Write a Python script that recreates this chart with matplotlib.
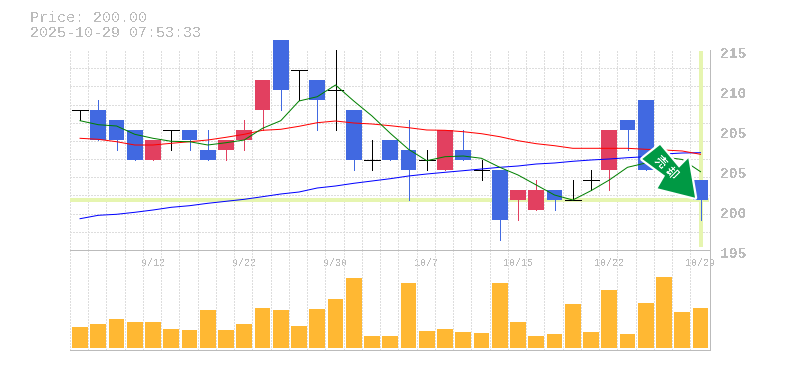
import numpy as np
import matplotlib
matplotlib.use("Agg")
import matplotlib.pyplot as plt
from matplotlib.patches import Polygon
from matplotlib.transforms import ScaledTranslation

dates = ["9/12", "9/22", "9/30", "10/7", "10/15", "10/22", "10/29"]
date_idx = [4, 9, 14, 19, 24, 29, 34]

opens = [209, 209, 208, 207, 204, 207, 207, 205, 205, 206, 209, 216, 213, 212, 211, 209, 204, 206,
         205, 204, 203, 205, 203, 203, 200, 199, 201, 200, 202, 203, 208, 210, 204, 202, 202]
highs = [209, 210, 208, 207, 206, 207, 207, 207, 206, 208, 212, 216, 213, 212, 215, 209, 206, 206,
         208, 205, 207, 207, 204, 203, 201, 202, 201, 202, 203, 207, 208, 210, 204, 203, 202]
lows = [208, 206, 205, 204, 204, 205, 205, 204, 204, 205, 207, 209, 210, 207, 207, 203, 203, 204,
        200, 203, 203, 204, 202, 196, 198, 199, 199, 200, 201, 201, 205, 203, 203, 202, 198]
closes = [209, 206, 206, 204, 206, 207, 206, 204, 206, 207, 212, 211, 213, 210, 211, 204, 204, 204,
          203, 204, 207, 204, 203, 198, 201, 201, 200, 200, 202, 207, 207, 203, 203, 202, 200]

ma_short = [207.93, 207.53, 207.4, 206.57, 206.17, 205.87, 205.83, 205.5, 205.73, 206.0,
            207.17, 207.93, 209.9, 210.33, 211.5, 209.9, 208.4, 206.67, 205.07, 203.93,
            204.33, 204.4, 204.17, 203.27, 202.5, 201.5, 200.5, 200.0, 200.93, 202.0,
            203.27, 203.7, 204.3, 204.05, 202.83]
ma_mid = [206.17, 206.07, 205.83, 205.5, 205.5, 205.67, 205.83, 206.0, 206.27, 206.57,
          206.97, 207.07, 207.37, 207.73, 207.9, 207.7, 207.6, 207.43, 207.23, 207.0,
          206.97, 206.83, 206.63, 206.33, 205.93, 205.63, 205.43, 205.17, 205.17, 205.17,
          205.17, 205.07, 205.0, 204.9, 204.57]
ma_long = [198.13, 198.47, 198.57, 198.77, 199.0, 199.27, 199.43, 199.67, 199.87, 200.07,
           200.33, 200.6, 200.8, 201.2, 201.4, 201.67, 201.9, 202.13, 202.4, 202.6,
           202.77, 202.93, 203.1, 203.27, 203.4, 203.6, 203.7, 203.87, 204.0, 204.1,
           204.23, 204.33, 204.6, 204.7, 204.73]

volumes = [21, 24, 29, 26, 26, 19, 18, 38, 18, 24, 40, 38, 22, 39, 49, 70, 12, 12,
           65, 17, 19, 16, 15, 65, 26, 12, 14, 44, 16, 58, 14, 45, 71, 36, 40]

price_ticks = [215, 211, 207, 203, 199, 195]
price_labels = ["215", "210", "205", "205", "200", "195"]

W, H = 785, 370
PX = 0.72
GRAY = "#bbbbbb"
GRID = "#dddddd"
HILITE = "#e6f5b0"
BLUE = "#4169e1"
RED = "#e24060"
ORANGE = "#ffb833"

plt.rcParams["font.family"] = ["Liberation Mono", "DejaVu Sans Mono"]
plt.rcParams["text.antialiased"] = False
plt.rcParams["lines.antialiased"] = False
plt.rcParams["patch.antialiased"] = False

fig = plt.figure(figsize=(W / 100, H / 100), dpi=100)
ax = fig.add_axes([70 / W, 1 - 250 / H, 640 / W, 200 / H])
vol = fig.add_axes([70 / W, 1 - 350 / H, 640 / W, 100 / H], sharex=ax)

x = np.arange(len(closes))
opens = np.array(opens)
closes = np.array(closes)
highs = np.array(highs)
lows = np.array(lows)
colors = np.where(closes > opens, RED, np.where(closes < opens, BLUE, "black"))

grid_x = np.arange(35) - 0.55
for a in (ax, vol):
    a.set_xlim(-0.55, 34.52)
    a.set_xticks(grid_x, minor=True)
    a.grid(which="minor", axis="x", color=GRID, linewidth=PX, linestyle=(0, (2, 2)))
    a.tick_params(which="both", length=0)
    a.set_axisbelow(True)
    for s in a.spines.values():
        s.set_color(GRAY)
        s.set_linewidth(PX)
    a.spines["top"].set_visible(False)
    a.spines["left"].set_visible(False)

# price panel
ax.set_ylim(195, 215)
ax.set_yticks(np.linspace(195, 215, 12), minor=True)
ax.grid(which="minor", axis="y", color=GRID, linewidth=PX, linestyle=(0, (2, 2)))
ax.plot([-0.55, 34.45], [closes[-1], closes[-1]], color=HILITE, linewidth=4 * PX,
        zorder=1, solid_capstyle="butt")
ax.plot([x[-1], x[-1]], [195.3, 214.9], color=HILITE, linewidth=4 * PX, zorder=1, solid_capstyle="butt")

ax.vlines(x, lows, highs, colors=colors, linewidth=PX, zorder=2, clip_on=False)
solid = closes != opens
ax.bar(x[solid], np.abs(closes - opens)[solid], bottom=np.minimum(opens, closes)[solid], width=0.86,
       color=colors[solid], linewidth=0, zorder=3, clip_on=False)
ax.hlines(closes[~solid], x[~solid] - 0.43, x[~solid] + 0.43, colors="black", linewidth=PX, zorder=3)

ax.plot(x, ma_long, color="#0000ff", linewidth=PX, antialiased=True, zorder=4)
ax.plot(x, ma_mid, color="#ff0000", linewidth=PX, antialiased=True, zorder=4)
ax.plot(x, ma_short, color="#008000", linewidth=PX, antialiased=True, zorder=4)

ax.yaxis.tick_right()
ax.set_yticks(price_ticks)
ax.set_yticklabels(price_labels, fontsize=10.5, color=GRAY, fontweight="bold")
ax.tick_params(axis="y", which="major", pad=7)
for label in ax.get_yticklabels():
    label.set_transform(label.get_transform() + ScaledTranslation(0, -3 / 100, fig.dpi_scale_trans))
ax.tick_params(axis="x", which="both", labelbottom=False, labeltop=False)

# volume panel
vol.bar(x, volumes, width=0.86, color=ORANGE, linewidth=0, zorder=3)
vol.set_ylim(-2, 98)
vol.set_yticks([])
vol.spines["top"].set_visible(True)
vol.xaxis.tick_top()
vol.set_xticks(date_idx)
vol.set_xticklabels(dates, fontsize=7.2, color=GRAY)
vol.tick_params(axis="x", which="major", pad=-13, labeltop=True, labelbottom=False)

fig.text(30 / W, 1 - 18 / H, "Price: 200.00", fontsize=10.8, color=GRAY, va="center", ha="left")
fig.text(30 / W, 1 - 33 / H, "2025-10-29 07:53:33", fontsize=10.8, color=GRAY, va="center", ha="left")

# sell arrow hanging off the last close
tip_x, tip_y = ax.transData.transform((x[-1], closes[-1]))
tip_x -= 5.5
tip_y += 2.3
offsets = [(-35, 52.7), (-52.7, 38.7), (-30, 22), (-37.3, 9.4), (0, 0), (-6.7, 39.4), (-16, 30)]
verts = [(tip_x + dx, tip_y + dy) for dx, dy in offsets]
fig.add_artist(Polygon(verts, closed=True, transform=None, facecolor="white", edgecolor="white",
                       linewidth=3.2, joinstyle="round", antialiased=True, zorder=10))
fig.add_artist(Polygon(verts, closed=True, transform=None, facecolor="#009944", edgecolor="none",
                       antialiased=True, zorder=10.5))
for ch, cx, cy in [("売", 660, 162), ("却", 671, 173)]:
    fig.text(cx / W, 1 - cy / H, ch, family=["Noto Sans CJK JP", "DejaVu Sans"], fontsize=8.5,
             fontweight="bold", color="white", rotation=-45, rotation_mode="anchor", ha="center", va="center",
             zorder=11)

fig.savefig("out.png", dpi=100)
plt.close()
